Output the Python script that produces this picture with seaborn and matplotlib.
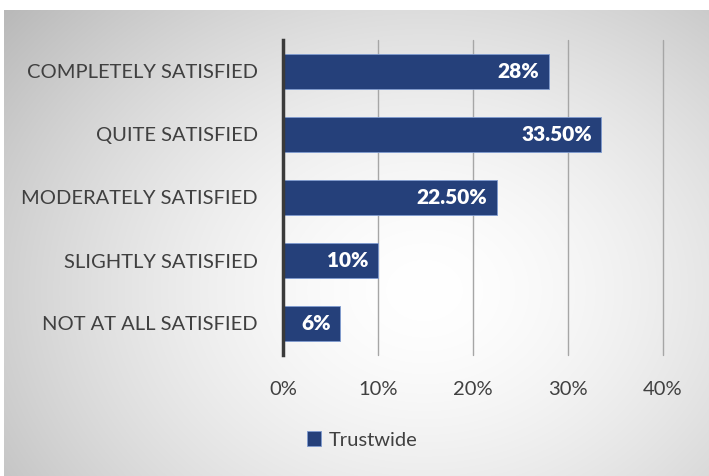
"""plot.py - 满意度横向条形图"""

import numpy as np
import matplotlib
matplotlib.use('Agg')
import matplotlib.pyplot as plt
from matplotlib.patches import Patch
import seaborn as sns

categories = ['COMPLETELY SATISFIED', 'QUITE SATISFIED', 'MODERATELY SATISFIED',
              'SLIGHTLY SATISFIED', 'NOT AT ALL SATISFIED']
values = [28, 33.5, 22.5, 10, 6]
value_labels = ['28%', '33.50%', '22.50%', '10%', '6%']
x_ticks = [0, 10, 20, 30, 40]
x_tick_labels = ['0%', '10%', '20%', '30%', '40%']
series_name = 'Trustwide'

BAR_COLOR = '#25407A'
TEXT_COLOR = '#404040'

sns.set_theme(style='white')
plt.rcParams['font.family'] = ['Lato', 'DejaVu Sans']

fig = plt.figure(figsize=(7.09, 4.76), dpi=100)
fig.patch.set_facecolor('white')

# 径向渐变背景
bg = fig.add_axes([4 / 709, 0, 1 - 4 / 709, 1 - 10 / 476])
h, w = 466, 705
yy, xx = np.mgrid[0:h, 0:w]
r = np.sqrt(((xx - 420) / 500) ** 2 + ((yy - 280) / 400) ** 2)
shade = 1 - 0.24 * np.clip(r, 0, 1.3) ** 1.6
bg.imshow(np.dstack([shade] * 3), aspect='auto', extent=(0, 1, 0, 1))
bg.set_axis_off()

ax = fig.add_axes([283 / 709, 1 - 355 / 476, 380 / 709, 315 / 476])
ax.patch.set_alpha(0)
sns.barplot(x=values, y=categories, orient='h', color=BAR_COLOR, width=0.57,
            saturation=1, edgecolor='#7f9bd0', linewidth=0.6, ax=ax)

for patch, lab in zip(ax.patches, value_labels):
    ax.text(patch.get_width() - 1.0, patch.get_y() + patch.get_height() / 2, lab,
            ha='right', va='center', color='white', fontsize=15, fontweight='heavy')

ax.set_xlim(0, 40)
ax.set_ylim(4.5, -0.5)
ax.set_xticks(x_ticks)
ax.set_xticklabels(x_tick_labels)
ax.tick_params(axis='x', length=0, pad=19, labelsize=14.5, labelcolor=TEXT_COLOR)
ax.tick_params(axis='y', length=0, pad=18, labelsize=14.5, labelcolor=TEXT_COLOR)
ax.grid(axis='x', color='#a6a6a6', linewidth=1)
ax.set_axisbelow(True)
for line in ax.get_xgridlines():
    line.set_clip_on(False)
for s in ['top', 'right', 'bottom']:
    ax.spines[s].set_visible(False)
ax.spines['left'].set_color('#3a3a3a')
ax.spines['left'].set_linewidth(2.5)
ax.set(xlabel='', ylabel='')

handle = Patch(facecolor=BAR_COLOR, edgecolor='#7f9bd0', linewidth=0.6)
leg = fig.legend([handle], [series_name], loc='center', bbox_to_anchor=(362 / 709, 1 - 440 / 476),
                 frameon=False, fontsize=14.5, handlelength=0.7, handleheight=0.7,
                 handletextpad=0.4, labelcolor=TEXT_COLOR)

plt.savefig('out.png', dpi=100)
plt.close()
